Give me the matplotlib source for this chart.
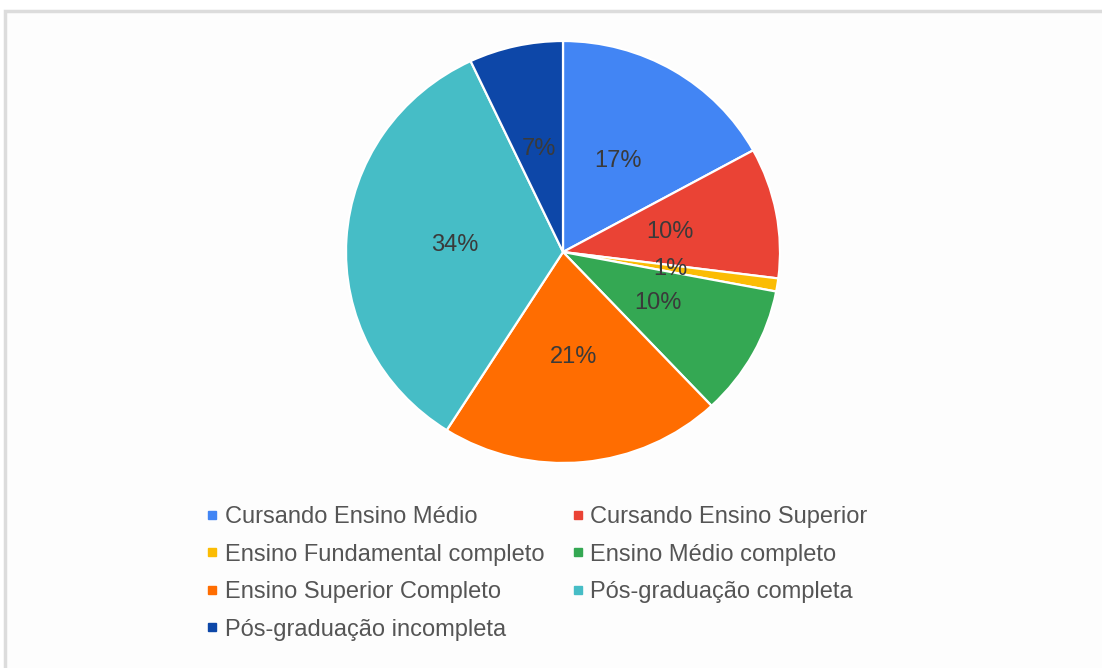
import matplotlib.pyplot as plt
from matplotlib.lines import Line2D
from matplotlib.patches import Rectangle

# escolaridade dos respondentes
categorias = ['Cursando Ensino Médio', 'Cursando Ensino Superior',
              'Ensino Fundamental completo', 'Ensino Médio completo',
              'Ensino Superior Completo', 'Pós-graduação completa',
              'Pós-graduação incompleta']
valores = [17, 10, 1, 10, 21, 34, 7]
cores = ['#4285F4', '#EA4335', '#FBBC04', '#34A853',
         '#FF6D01', '#46BDC6', '#0D47A8']

plt.rcParams['font.family'] = ['Liberation Sans', 'DejaVu Sans']

W, H = 1102, 668
fig = plt.figure(figsize=(W / 100, H / 100), dpi=100)

# moldura cinza clara
fig.patches.append(Rectangle((5 / W, -0.1), 1.2, (H - 11) / H + 0.1,
                             transform=fig.transFigure, facecolor='#fdfdfd',
                             edgecolor='#dcdcdc', linewidth=2.5, zorder=-5))

cx, cy, rx, ry = 563, 252, 217, 211
ax = fig.add_axes([(cx - rx) / W, (H - cy - ry) / H, 2 * rx / W, 2 * ry / H])
ax.set_facecolor('none')
ax.set_zorder(2)

wedges, textos, pcts = ax.pie(valores, colors=cores, startangle=90,
                              counterclock=False, autopct='%1.0f%%',
                              pctdistance=0.5,
                              wedgeprops=dict(edgecolor='white', linewidth=1.6),
                              textprops=dict(fontsize=17, color='#3a3a3a'))
ax.set_xlim(-1.0, 1.0)
ax.set_ylim(-1.0, 1.0)
ax.set_aspect('auto')

# legenda em duas colunas, preenchida por linha
ordem = [0, 2, 4, 6, 1, 3, 5]
handles = [Line2D([], [], marker='s', linestyle='none', markersize=6,
                  color=cores[i]) for i in ordem]
labels = [categorias[i] for i in ordem]
fig.legend(handles, labels, ncol=2, loc='upper left',
           bbox_to_anchor=(207 / W, 1 - 506 / H), frameon=False,
           fontsize=17, labelcolor='#555555', handlelength=0.45,
           handletextpad=0.3, columnspacing=1.2, labelspacing=0.66,
           borderpad=0, borderaxespad=0)

plt.savefig('out.png', dpi=100)
